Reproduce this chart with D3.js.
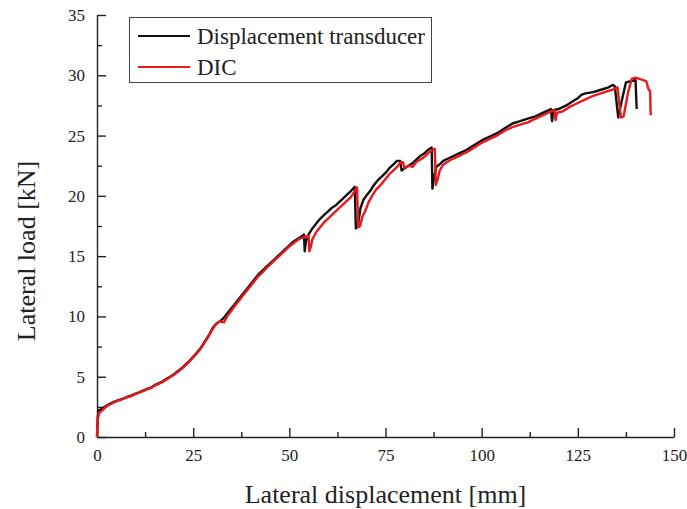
<!DOCTYPE html>
<html>
<head>
<meta charset="utf-8">
<script src="https://cdn.jsdelivr.net/npm/d3@7"></script>
<style>
  body { margin: 0; background: #fff; }
  svg { display: block; font-family: "Liberation Serif", "Times New Roman", serif; }
  .axis path, .axis line { stroke: #222; stroke-width: 1.4px; }
  .axis text { font-family: "Liberation Serif", serif; font-size: 17px; fill: #222; }
</style>
</head>
<body>
<svg width="687" height="509"></svg>
<script>
// tick values
var xTicks = [0, 25, 50, 75, 100, 125, 150];
var xMinor = [12.5, 37.5, 62.5, 87.5, 112.5, 137.5];
var yTicks = [0, 5, 10, 15, 20, 25, 30, 35];
var yMinor = [2.5, 7.5, 12.5, 17.5, 22.5, 27.5, 32.5];

// Displacement transducer: [displacement mm, load kN]
var transducer = [
  [0,0],[0.2,1.6],[0.4,2.2],[1,2.3],[2,2.5],[3,2.7],[4,2.85],[5,3.0],[6,3.1],[7,3.2],
  [8,3.35],[9,3.45],[10,3.6],[11,3.7],[12,3.85],[13,4.0],[14,4.1],[15,4.3],[16,4.45],
  [17,4.6],[18,4.8],[19,5.0],[20,5.2],[21,5.45],[22,5.7],[23,6.0],[24,6.3],[25,6.65],
  [26,7.0],[27,7.4],[28,7.9],[29,8.4],[30,9.0],[31,9.4],[32,9.6],[33,9.9],[34,10.3],
  [35,10.7],[36,11.1],[37,11.5],[38,11.9],[39,12.3],[40,12.7],[41,13.1],[42,13.5],
  [43,13.8],[44,14.1],[45,14.4],[46,14.7],[47,15.0],[48,15.3],[49,15.6],[50,15.9],
  [51,16.2],[52,16.4],[53,16.6],[53.8,16.8],[54,15.4],[54.3,16.2],[55,16.8],[56,17.3],
  [57,17.7],[58,18.1],[59,18.4],[60,18.7],[61,19.0],[62,19.2],[63,19.5],[64,19.8],
  [65,20.1],[66,20.4],[67,20.75],[67.3,17.3],[67.8,17.5],[68.5,19.0],[69.3,19.7],
  [70,20.0],[71,20.4],[72,20.9],[73,21.3],[74,21.6],[75,21.9],[76,22.3],[77,22.6],
  [78,22.9],[78.8,22.9],[79.2,22.1],[80,22.3],[81,22.5],[82,22.7],[83,23.0],[84,23.3],
  [85,23.5],[86,23.8],[87,24.0],[87.2,20.6],[87.6,21.5],[88.2,22.4],[89,22.6],[90,22.9],
  [92,23.2],[94,23.5],[96,23.8],[98,24.2],[100,24.6],[102,24.9],[104,25.2],[106,25.6],
  [108,26.0],[110,26.2],[112,26.4],[114,26.6],[116,26.9],[118,27.2],[118.3,26.2],
  [118.6,27.1],[120,27.2],[122,27.5],[124,27.9],[125,28.1],[126,28.4],[127,28.5],
  [129,28.6],[131,28.8],[133,29.0],[134,29.2],[134.6,29.1],[135.5,26.5],[136.5,28.0],
  [137.5,29.4],[138.5,29.5],[140,29.6],[140.3,27.2]
];

// DIC: [displacement mm, load kN]
var dic = [
  [0,0],[0.1,1.2],[0.3,1.6],[0.5,2.0],[1,2.1],[2,2.4],[3,2.65],[4,2.8],[5,2.95],[6,3.05],
  [7,3.2],[8,3.3],[9,3.4],[10,3.55],[11,3.7],[12,3.8],[13,3.95],[14,4.05],[15,4.25],
  [16,4.4],[17,4.55],[18,4.75],[19,4.95],[20,5.15],[21,5.4],[22,5.65],[23,5.95],[24,6.25],
  [25,6.6],[26,6.95],[27,7.35],[28,7.85],[29,8.35],[30,8.9],[31,9.4],[32,9.6],[33,9.5],
  [33.5,9.8],[34,10.1],[35,10.5],[36,10.95],[37,11.35],[38,11.75],[39,12.15],[40,12.55],
  [41,12.95],[42,13.35],[43,13.65],[44,14.0],[45,14.3],[46,14.6],[47,14.9],[48,15.2],
  [49,15.5],[50,15.8],[51,16.05],[52,16.3],[53,16.5],[54,16.6],[55,16.7],[55.2,15.4],
  [55.6,15.8],[56,16.4],[57,17.0],[58,17.4],[59,17.8],[60,18.1],[61,18.4],[62,18.7],
  [63,19.0],[64,19.3],[65,19.6],[66,19.9],[67,20.4],[67.6,20.7],[67.9,17.4],[68.4,17.5],
  [69,18.3],[69.7,18.7],[70.5,19.4],[71.5,20.0],[72.5,20.5],[74,21.0],[75,21.4],[76,21.8],
  [77,22.1],[78,22.4],[79,22.8],[79.5,22.8],[80,22.3],[81,22.5],[82,22.4],[83,22.8],
  [84,23.0],[85,23.2],[86,23.5],[87,23.8],[87.8,23.9],[88.1,20.9],[88.6,21.4],[89.1,22.1],
  [90,22.6],[92,23.0],[94,23.3],[96,23.6],[98,24.0],[100,24.4],[102,24.7],[104,25.0],
  [106,25.4],[108,25.7],[110,25.9],[112,26.1],[114,26.4],[116,26.7],[118,27.0],[118.9,27.1],
  [119.2,26.3],[119.6,26.9],[121,27.0],[123,27.4],[125,27.7],[127,28.0],[129,28.3],
  [131,28.5],[133,28.7],[134,28.8],[135.3,29.0],[136.2,26.5],[136.9,26.6],[138,28.5],
  [139,29.7],[140,29.8],[141,29.7],[142,29.6],[142.8,29.5],[143.4,28.8],[143.8,28.7],
  [143.9,27.0],[144,26.7]
];

var svg = d3.select("svg");
var margin = { top: 15, right: 13, bottom: 72, left: 97 };
var width = 687 - margin.left - margin.right;
var height = 509 - margin.top - margin.bottom;

var g = svg.append("g").attr("transform", "translate(" + margin.left + "," + margin.top + ")");

var x = d3.scaleLinear().domain([0, 150]).range([0, width]);
var y = d3.scaleLinear().domain([0, 35]).range([height, 0]);

// axes, ticks point inward
g.append("g")
  .attr("class", "axis")
  .attr("transform", "translate(0," + height + ")")
  .call(d3.axisBottom(x).tickValues(xTicks).tickSizeInner(-9).tickSizeOuter(0).tickPadding(12));
g.append("g")
  .attr("class", "axis")
  .attr("transform", "translate(0," + height + ")")
  .call(d3.axisBottom(x).tickValues(xMinor).tickSizeInner(-5).tickSizeOuter(0).tickFormat(""))
  .select(".domain").remove();

g.append("g")
  .attr("class", "axis")
  .call(d3.axisLeft(y).tickValues(yTicks).tickSizeInner(-9).tickSizeOuter(0).tickPadding(12));
g.append("g")
  .attr("class", "axis")
  .call(d3.axisLeft(y).tickValues(yMinor).tickSizeInner(-5).tickSizeOuter(0).tickFormat(""))
  .select(".domain").remove();

var line = d3.line()
  .x(function (d) { return x(d[0]); })
  .y(function (d) { return y(d[1]); });

g.append("path")
  .datum(transducer)
  .attr("fill", "none")
  .attr("stroke", "#111")
  .attr("stroke-width", 2.4)
  .attr("stroke-linejoin", "round")
  .attr("d", line);

g.append("path")
  .datum(dic)
  .attr("fill", "none")
  .attr("stroke", "#e8191c")
  .attr("stroke-width", 2.4)
  .attr("stroke-linejoin", "round")
  .attr("d", line);

// axis titles
svg.append("text")
  .attr("x", margin.left + width / 2)
  .attr("y", 503)
  .attr("text-anchor", "middle")
  .style("font-size", "26px")
  .style("fill", "#222")
  .text("Lateral displacement [mm]");

svg.append("text")
  .attr("transform", "translate(35,251) rotate(-90)")
  .attr("text-anchor", "middle")
  .style("font-size", "26px")
  .style("fill", "#222")
  .text("Lateral load [kN]");

// legend
var legend = svg.append("g");
legend.append("rect")
  .attr("x", 129.5).attr("y", 17.5)
  .attr("width", 302).attr("height", 65)
  .attr("fill", "#fff")
  .attr("stroke", "#444")
  .attr("stroke-width", 1);

var legendItems = [
  { name: "Displacement transducer", color: "#111" },
  { name: "DIC", color: "#e8191c" }
];
legendItems.forEach(function (item, i) {
  var cy = 36 + i * 31;
  legend.append("line")
    .attr("x1", 138).attr("x2", 190)
    .attr("y1", cy).attr("y2", cy)
    .attr("stroke", item.color)
    .attr("stroke-width", 2.2);
  legend.append("text")
    .attr("x", 197)
    .attr("y", cy + 8)
    .style("font-size", "23px")
    .style("fill", "#222")
    .text(item.name);
});
</script>
</body>
</html>
